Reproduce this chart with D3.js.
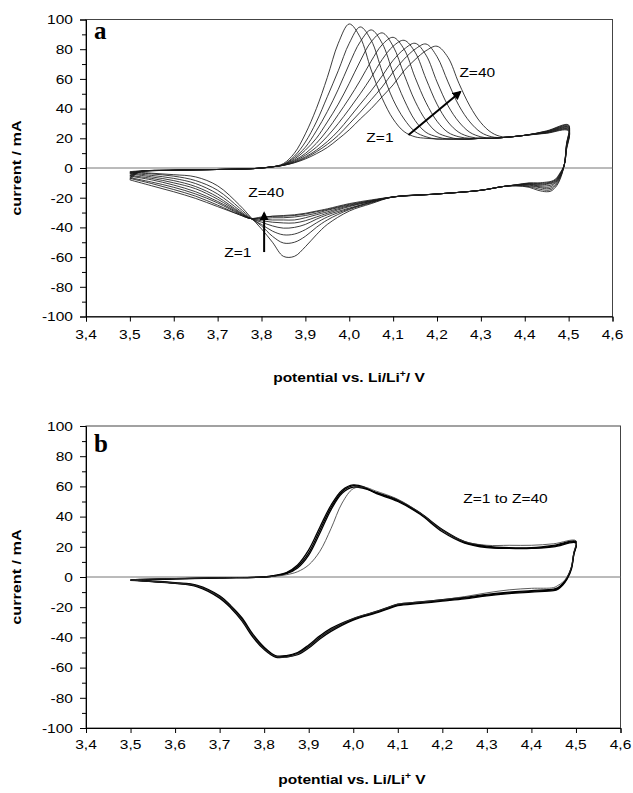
<!DOCTYPE html>
<html><head><meta charset="utf-8">
<script src="https://cdn.jsdelivr.net/npm/d3@7"></script>
<style>body{margin:0;background:#fff}svg{display:block}</style>
</head><body>
<svg id="chart" width="633" height="793"></svg>
<script>
// ---------- DATA ----------
const xTickValues = [3.4,3.5,3.6,3.7,3.8,3.9,4.0,4.1,4.2,4.3,4.4,4.5,4.6];
const yTickValues = [-100,-80,-60,-40,-20,0,20,40,60,80,100];
const yMinorTickValues = [-90,-70,-50,-30,-10,10,30,50,70,90];

// Panel a: cycles shown
const cyclesA = [1,5,10,15,20,25,30,35,40];
// anodic sweep potentials (V)
const potAnodicA = [3.50,3.52,3.60,3.70,3.775,3.80,3.825,3.85,3.875,3.90,3.925,3.95,3.975,4.00,4.025,4.05,4.075,4.10,4.125,4.15,4.175,4.20,4.225,4.25,4.275,4.30,4.325,4.35,4.40,4.45,4.50];
// anodic currents (mA), one row per cycle
const curAnodicA = [
 [-2.5,-2,-1.5,-1,-0.5,0,0.8,3,10,23,40,61,84,97,88,66,47,33,24.5,21,20,19.5,19.5,19.5,19.5,20,20,20.5,22,25,29],
 [-3,-2.2,-1.5,-1,-0.5,0,0.8,2.5,8,17.5,31,48,65.5,84,95,86,65,46,33,24.5,21,19.5,19.5,19.5,19.5,20,20,20.5,22,24.8,28.5],
 [-3.5,-2.3,-1.5,-1,-0.5,0,0.8,2.3,7,14,25,38,53,70,85,93,84,64,46,32,24,21,19.5,19.5,19.5,20,20,20.5,22,24.6,28],
 [-4,-2.4,-1.5,-1,-0.5,0,0.8,2.2,6,12,20,31,43,57,72,85,91,82,63,45,32,24,21,19.5,19.5,20,20,20.5,22,24.4,27.5],
 [-5,-2.5,-1.5,-1,-0.5,0,0.8,2,5.2,9.8,16.6,25.5,36,47,59,72,83,88,80,61,44,31.5,24,21,20,20,20,20.5,22,24.2,27],
 [-5.5,-2.6,-1.5,-1,-0.5,0,0.8,1.9,4.6,8.6,14,21.3,30,39.7,50,61,73,82,86,78,60,43,31,24,21,20,20,20.5,22,24,26.5],
 [-6.5,-2.7,-1.5,-1,-0.5,0,0.8,1.8,4.1,7.5,12,17.8,25,33.8,43,52,62,72.5,80,84,76,58,42,31,24,21,20,20.5,22,23.8,26],
 [-7,-2.8,-1.5,-1,-0.5,0,0.8,1.8,3.7,6.8,10.9,15.9,22,29.7,37.6,46,54.6,64.6,73.3,80,83.5,75,58,42,31,24,21,20.5,22,23.6,25.5],
 [-8,-3,-1.5,-1,-0.5,0,0.8,1.8,3.5,6.1,9.6,13.8,19.5,25.7,33,40,48,56,65.5,73,79,82,74.5,57,41.7,30.5,23.7,21,22,23.4,25]
];
// cathodic sweep potentials (V)
const potCathodicA = [4.50,4.495,4.49,4.48,4.47,4.46,4.45,4.43,4.41,4.38,4.35,4.30,4.20,4.10,4.05,4.00,3.95,3.925,3.90,3.875,3.85,3.825,3.80,3.775,3.75,3.70,3.65,3.60,3.55,3.50];
const curCathodicA = [
 [29,16,2,-8,-13,-15.5,-16,-15,-13,-12,-12.5,-15,-17.5,-19.5,-24,-29,-38,-45,-53,-59.5,-59.5,-50,-41,-33,-25,-12,-6,-4.5,-3.5,-2.5],
 [28.5,15.5,2,-7,-12,-14.5,-15,-14,-12.5,-12,-12.5,-15,-17.5,-19.5,-23.5,-28,-35,-40,-46,-50,-50.5,-46,-39,-33.5,-27,-15,-8.5,-5.5,-4,-3],
 [28,15,2,-6.5,-11,-13.5,-14,-13,-12,-11.8,-12.5,-15,-17.5,-19.5,-23,-27.5,-33,-37,-41.5,-44.5,-45,-42.5,-38,-34,-28.5,-17.5,-10.5,-7,-5,-3.5],
 [27.5,14.5,2,-6,-10,-12.5,-13,-12.5,-11.5,-11.6,-12.5,-15,-17.5,-19.5,-23,-27,-31.5,-34.5,-38,-40,-40.5,-39,-36.5,-34,-29.5,-19.5,-12.5,-8.5,-6,-4],
 [27,14,2,-5.5,-9.5,-11.5,-12,-12,-11,-11.5,-12.5,-15,-17.5,-19.5,-22.5,-26,-30.5,-33,-35.5,-37,-37,-36.5,-35.5,-34,-30,-21,-14,-10,-7,-5],
 [26.5,13.5,2,-5,-9,-10.5,-11,-11.5,-10.8,-11.5,-12.5,-15,-17.5,-19.5,-22.5,-25.5,-29.5,-31.5,-33.5,-35,-35,-35,-34.5,-34,-30.5,-22.5,-16,-11.5,-8,-5.5],
 [26,13,2,-4.5,-8.5,-10,-10.5,-11,-10.5,-11.5,-12.5,-15,-17.5,-19.5,-22,-25,-28.5,-30.5,-32,-33,-33.5,-33.5,-34,-34,-31,-23.5,-17.5,-13,-9.5,-6.5],
 [25.5,12.5,2,-4,-8,-9.5,-10,-10.5,-10.3,-11.4,-12.5,-15,-17.5,-19.5,-22,-24.5,-28,-29.5,-31,-32,-32.5,-32.5,-33.5,-34,-31.5,-25,-19,-14.5,-10.5,-7],
 [25,12,2,-3.5,-7.5,-9,-9.5,-10,-10,-11.3,-12.5,-15,-17.5,-19.5,-21.5,-24,-27.5,-29,-30.5,-31.5,-32,-32.5,-33,-34,-31.5,-26,-20.5,-16,-12,-8]
];

// Panel b: overlapping cycles (bundle) + first cycle
const cyclesB = [40,20,10,1];
const potAnodicB = [3.50,3.52,3.60,3.70,3.80,3.825,3.85,3.875,3.90,3.925,3.95,3.975,4.00,4.025,4.05,4.10,4.15,4.20,4.25,4.30,4.35,4.40,4.45,4.50];
const curAnodicB = [
 [-2,-1.8,-1.2,-0.6,0,1,2.5,7,16,31,46,56.5,60.5,59,56,50.5,42,31,23,20,19,19,20.5,23],
 [-2.2,-2,-1.3,-0.6,0,1,3,8,18,33,47.5,57.5,61,59.5,55.5,50,41.5,30,22.5,19.5,19,19,20,22.5],
 [-2,-1.6,-1.1,-0.5,0,0.8,2.2,6,14.5,29,44.5,55.5,59.5,58.5,56,51,42.5,31.5,23.5,20.5,19.5,19.5,21,23.5],
 [-2,-1.6,-1,-0.5,0,0.5,1.5,3.5,8,17,32,49,58.5,59.5,57,51.5,42.5,31,23.5,21,21,21,22,24]
];
const potCathodicB = [4.50,4.495,4.49,4.48,4.47,4.46,4.45,4.40,4.35,4.30,4.25,4.20,4.15,4.10,4.075,4.05,4.00,3.95,3.925,3.90,3.875,3.85,3.825,3.80,3.775,3.75,3.725,3.70,3.65,3.60,3.55,3.50];
const curCathodicB = [
 [23,15,6,-1,-5,-7.5,-8.5,-9.5,-10.5,-12,-14,-15.5,-17,-18.5,-21,-23.5,-28,-35,-40,-46,-50.5,-52.5,-52.5,-47,-39,-28,-19.5,-13,-6,-4,-3,-2],
 [22.5,14.5,5.5,-1.5,-5.5,-8,-9,-10,-11,-12.5,-14.5,-16,-17.5,-19,-21.5,-24,-28.5,-36,-41,-47,-51.5,-53,-53,-48,-40,-29,-20.5,-14,-6.5,-4.2,-3,-2.2],
 [23.5,15.5,6.5,-0.5,-4.5,-7,-8,-9,-10,-11.5,-13.5,-15,-16.5,-18,-20.5,-23,-27.5,-34,-39,-45,-50,-52,-52,-46.5,-38,-27,-19,-12.5,-5.5,-3.8,-2.8,-2],
 [24,16,7,0,-3.5,-5.5,-7,-7.5,-8.5,-10.5,-13,-15,-16.5,-18,-20.5,-23,-27.5,-35,-40.5,-46.5,-51,-53,-52.5,-47.5,-39,-28.5,-19.5,-13,-6,-4,-3,-2]
];

// annotations [label, potential, current]
const annotA = [["Z=40",4.251,61.3],["Z=1",4.039,17.5],["Z=40",3.770,-19.5],["Z=1",3.715,-60]];
const arrowsA = [[4.135,22.2,4.253,51.2],[3.806,-56.6,3.806,-30.3]];
const annotB = [["Z=1 to Z=40",4.247,48.9]];

// ---------- DRAWING ----------
const svg = d3.select("#chart");
const SX = 1.15; // horizontal text stretch

function addText(g, x, y, str, o) {
  o = o || {};
  const t = g.append("text")
    .attr("transform", `translate(${x},${y})` + (o.rotate ? ` rotate(${o.rotate})` : "") + ` scale(${o.sx || SX},1)`)
    .attr("font-family", o.family || "'Liberation Sans', Arial, sans-serif")
    .attr("font-size", o.size || 13.5)
    .attr("font-weight", o.weight || "normal")
    .attr("text-anchor", o.anchor || "start")
    .attr("fill", "#000");
  if (o.dy) t.attr("dy", o.dy);
  if (typeof str === "string") t.text(str); else str(t);
  return t;
}

function panel(cfg) {
  const g = svg.append("g");
  const x = d3.scaleLinear().domain([3.4, 4.6]).range([cfg.left, cfg.right]);
  const y = d3.scaleLinear().domain([-100, 100]).range([cfg.bottom, cfg.top]);

  // frame
  g.append("rect").attr("x", cfg.left).attr("y", cfg.top)
    .attr("width", cfg.right - cfg.left).attr("height", cfg.bottom - cfg.top)
    .attr("fill", "none").attr("stroke", "#444").attr("stroke-width", 1);
  // zero line
  g.append("line").attr("x1", cfg.left).attr("x2", cfg.right)
    .attr("y1", y(0)).attr("y2", y(0)).attr("stroke", "#777").attr("stroke-width", 1);

  // y axis
  const ya = g.append("g").attr("transform", `translate(${cfg.left},0)`)
    .call(d3.axisLeft(y).tickValues(yTickValues).tickSize(6).tickFormat(""));
  ya.select(".domain").attr("stroke", "#000");
  ya.selectAll(".tick line").attr("stroke", "#000");
  const ym = g.append("g").attr("transform", `translate(${cfg.left},0)`)
    .call(d3.axisLeft(y).tickValues(yMinorTickValues).tickSize(4).tickFormat(""));
  ym.select(".domain").remove();
  ym.selectAll(".tick line").attr("stroke", "#000");
  yTickValues.forEach(v => addText(g, cfg.left - 13, y(v), String(v), {anchor: "end", dy: "0.36em"}));

  // x axis
  const xa = g.append("g").attr("transform", `translate(0,${cfg.bottom})`)
    .call(d3.axisBottom(x).tickValues(xTickValues).tickSize(5).tickFormat(""));
  xa.select(".domain").attr("stroke", "#000");
  xa.selectAll(".tick line").attr("stroke", "#000");
  xTickValues.forEach(v => addText(g, x(v), cfg.bottom + cfg.tickLabelDy, d3.format(".1f")(v).replace(".", ","), {anchor: "middle"}));

  // titles
  addText(g, cfg.yTitleX, (cfg.top + cfg.bottom) / 2, "current / mA", {rotate: -90, anchor: "middle", weight: "bold", sx: 1.2});
  addText(g, cfg.xTitleX, cfg.xTitleY, t => {
    t.append("tspan").text("potential vs. Li/Li");
    t.append("tspan").attr("dy", -5).attr("font-size", 9).text("+");
    t.append("tspan").attr("dy", 5).text(cfg.xTitleTail);
  }, {anchor: "middle", weight: "bold", sx: 1.15});
  addText(g, cfg.left + 8, cfg.letterY, cfg.letter, {family: "'Liberation Serif', 'Times New Roman', serif", size: 25, weight: "bold", sx: 1});

  const line = d3.line().x(d => x(d[0])).y(d => y(d[1])).curve(d3.curveCatmullRom.alpha(0.5));
  return {g, x, y, line};
}

function buildLoop(potA, curA, potC, curC) {
  const pts = potA.map((p, i) => [p, curA[i]]);
  potC.forEach((p, i) => { if (i > 0) pts.push([p, curC[i]]); });
  return pts;
}

// ----- Panel a -----
const A = panel({left: 86, right: 612.5, top: 19.5, bottom: 316.5, tickLabelDy: 22, yTitleX: 21, xTitleX: 349, xTitleY: 382, xTitleTail: "/ V", letter: "a", letterY: 39});
cyclesA.forEach((c, i) => {
  A.g.append("path").datum(buildLoop(potAnodicA, curAnodicA[i], potCathodicA, curCathodicA[i]))
    .attr("d", A.line).attr("fill", "none").attr("stroke", "#1a1a1a").attr("stroke-width", 0.85);
});
annotA.forEach(a => addText(A.g, A.x(a[1]), A.y(a[2]), a[0], {size: 13.5}));
const defs = svg.append("defs");
defs.append("marker").attr("id", "ah").attr("viewBox", "0 0 10 10").attr("refX", 8).attr("refY", 5)
  .attr("markerWidth", 4.5).attr("markerHeight", 4.5).attr("orient", "auto")
  .append("path").attr("d", "M0,0 L10,5 L0,10 z").attr("fill", "#000");
arrowsA.forEach(a => {
  A.g.append("line").attr("x1", A.x(a[0])).attr("y1", A.y(a[1])).attr("x2", A.x(a[2])).attr("y2", A.y(a[3]))
    .attr("stroke", "#000").attr("stroke-width", 2).attr("marker-end", "url(#ah)");
});

// ----- Panel b -----
const B = panel({left: 86, right: 620.5, top: 426, bottom: 728, tickLabelDy: 21, yTitleX: 21, xTitleX: 352, xTitleY: 784, xTitleTail: " V", letter: "b", letterY: 452});
cyclesB.forEach((c, i) => {
  B.g.append("path").datum(buildLoop(potAnodicB, curAnodicB[i], potCathodicB, curCathodicB[i]))
    .attr("d", B.line).attr("fill", "none")
    .attr("stroke", c === 1 ? "#333" : "#000").attr("stroke-width", c === 1 ? 0.8 : 1.3);
});
annotB.forEach(a => addText(B.g, B.x(a[1]), B.y(a[2]), a[0], {size: 13.5}));
</script>
</body></html>
